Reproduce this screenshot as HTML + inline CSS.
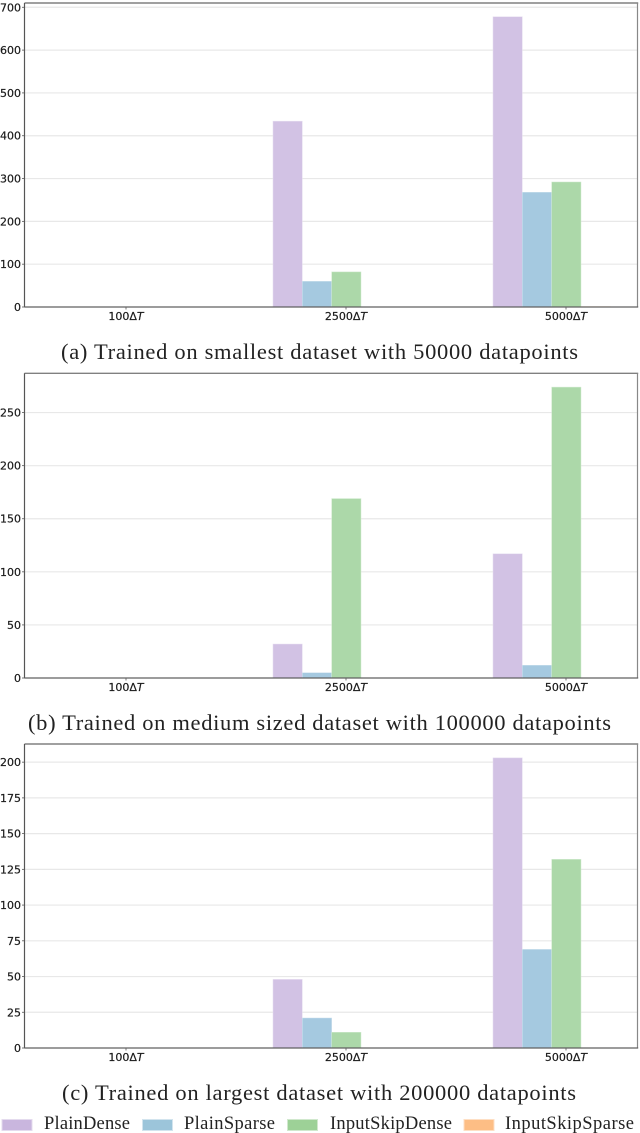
<!DOCTYPE html>
<html lang="en">
<head>
<meta charset="utf-8">
<title>Grouped bar charts by dataset size</title>
<style>
html,body{margin:0;padding:0;background:#fff;}
body{width:640px;height:1133px;overflow:hidden;}
svg{display:block;}
.cap{font-family:"Liberation Serif",serif;font-size:22.5px;fill:#222;}
.leg{font-family:"Liberation Serif",serif;font-size:18.5px;fill:#222;}
.tick{font-family:"DejaVu Sans","Liberation Sans",sans-serif;font-size:11px;fill:#1a1a1a;stroke:#1a1a1a;stroke-width:0.2px;}
</style>
</head>
<body>
<svg id="fig" width="640" height="1133" viewBox="0 0 640 1133" xmlns="http://www.w3.org/2000/svg">
  <g id="panel-a"></g>
  <text class="cap" x="61" y="359" textLength="517">(a) Trained on smallest dataset with 50000 datapoints</text>
  <g id="panel-b"></g>
  <text class="cap" x="28" y="730" textLength="583">(b) Trained on medium sized dataset with 100000 datapoints</text>
  <g id="panel-c"></g>
  <text class="cap" x="62" y="1100" textLength="514">(c) Trained on largest dataset with 200000 datapoints</text>
  <g>
    <rect x="2" y="1119.5" width="30" height="11" fill="#c9b6de" stroke="#e4dbee" stroke-width="1"/>
    <text class="leg" x="44" y="1129" textLength="86">PlainDense</text>
    <rect x="142.5" y="1119.5" width="30" height="11" fill="#9cc5da" stroke="#d2e4ee" stroke-width="1"/>
    <text class="leg" x="184" y="1129" textLength="91">PlainSparse</text>
    <rect x="287.5" y="1119.5" width="30" height="11" fill="#9dd197" stroke="#d0e8cd" stroke-width="1"/>
    <text class="leg" x="330" y="1129" textLength="122">InputSkipDense</text>
    <rect x="464" y="1119.5" width="30" height="11" fill="#fdbe85" stroke="#fedfc4" stroke-width="1"/>
    <text class="leg" x="505" y="1129" textLength="129">InputSkipSparse</text>
  </g>
</svg>
<script>
var categories = [100, 2500, 5000];
var seriesNames = ["plain-dense", "plain-sparse", "input-skip-dense", "input-skip-sparse"];

var smallPlainDense = [0, 434, 678];
var smallPlainSparse = [0, 60, 268];
var smallInputSkipDense = [0, 82, 292];
var smallInputSkipSparse = [0, 0, 1];
var smallTicks = [0, 100, 200, 300, 400, 500, 600, 700];

var mediumPlainDense = [0, 32, 117];
var mediumPlainSparse = [0, 5, 12];
var mediumInputSkipDense = [0, 169, 274];
var mediumInputSkipSparse = [0, 0, 0];
var mediumTicks = [0, 50, 100, 150, 200, 250];

var largePlainDense = [0, 48, 203];
var largePlainSparse = [0, 21, 69];
var largeInputSkipDense = [0, 11, 132];
var largeInputSkipSparse = [0, 0, 0];
var largeTicks = [0, 25, 50, 75, 100, 125, 150, 175, 200];

var NS = "http://www.w3.org/2000/svg";
var barFills = ["#d2c2e4", "#a5c9e0", "#acd8a9", "#fdc592"];
var barEdges = ["#e6def0", "#cfe2ee", "#d2ebd0", "#fedfc4"];

function make(parent, tag, attrs) {
  var el = document.createElementNS(NS, tag);
  for (var k in attrs) el.setAttribute(k, attrs[k]);
  parent.appendChild(el);
  return el;
}

function drawPanel(id, series, ticks, yMax, top, bottom) {
  var g = document.getElementById(id);
  var left = 24.5, right = 637.5;
  var yScale = function (v) { return bottom - (v / yMax) * (bottom - top); };
  var xTick = function (i) { return 126 + 220 * i; };
  var barW = 29.33;
  var xBar = function (i, s) { return xTick(i) - 73 + barW * s; };

  ticks.forEach(function (t) {
    var y = yScale(t);
    if (t !== 0) {
      var grid = make(g, "line", {x1: left, x2: right, y1: y, y2: y, stroke: "#e8e8e8", "stroke-width": 1.2});
      
      
    }
    var mark = make(g, "line", {x1: left - 2.5, x2: left, y1: y, y2: y, stroke: "#555", "stroke-width": 0.8});
    
    
    var label = make(g, "text", {"class": "tick", x: 21, y: y + 4, "text-anchor": "end"});
    label.textContent = String(t);
    
    
  });

  series.forEach(function (values, s) {
    values.forEach(function (v, i) {
      if (v <= 0) return;
      var y = yScale(v);
      var bar = make(g, "rect", {x: xBar(i, s), y: y, width: barW, height: bottom - y, fill: barFills[s], stroke: barEdges[s], "stroke-width": 0.5});
      
      
    });
  });

  categories.forEach(function (c, i) {
    var x = xTick(i);
    var mark = make(g, "line", {x1: x, x2: x, y1: bottom, y2: bottom + 2.5, stroke: "#555", "stroke-width": 0.8});
    
    
    var label = make(g, "text", {"class": "tick", x: x, y: bottom + 13, "text-anchor": "middle"});
    label.textContent = c + "\u0394";
    var it = make(label, "tspan", {"font-style": "italic"});
    it.textContent = "T";
    
    
  });

  var topSpine = make(g, "line", {x1: left, x2: right + 0.7, y1: top, y2: top, stroke: "#808080", "stroke-width": 1.4});
  
  
  var rightSpine = make(g, "line", {x1: right, x2: right, y1: top, y2: bottom, stroke: "#888", "stroke-width": 1.2});
  
  
  var leftSpine = make(g, "line", {x1: left, x2: left, y1: top, y2: bottom, stroke: "#555", "stroke-width": 1.2});
  
  
  var bottomSpine = make(g, "line", {x1: left, x2: right + 0.7, y1: bottom, y2: bottom, stroke: "#606060", "stroke-width": 1.3});
  
  
}

drawPanel("panel-a", [smallPlainDense, smallPlainSparse, smallInputSkipDense, smallInputSkipSparse], smallTicks, 710, 3, 307);
drawPanel("panel-b", [mediumPlainDense, mediumPlainSparse, mediumInputSkipDense, mediumInputSkipSparse], mediumTicks, 287, 373.3, 678);
drawPanel("panel-c", [largePlainDense, largePlainSparse, largeInputSkipDense, largeInputSkipSparse], largeTicks, 212.7, 744, 1048);
</script>
</body>
</html>
